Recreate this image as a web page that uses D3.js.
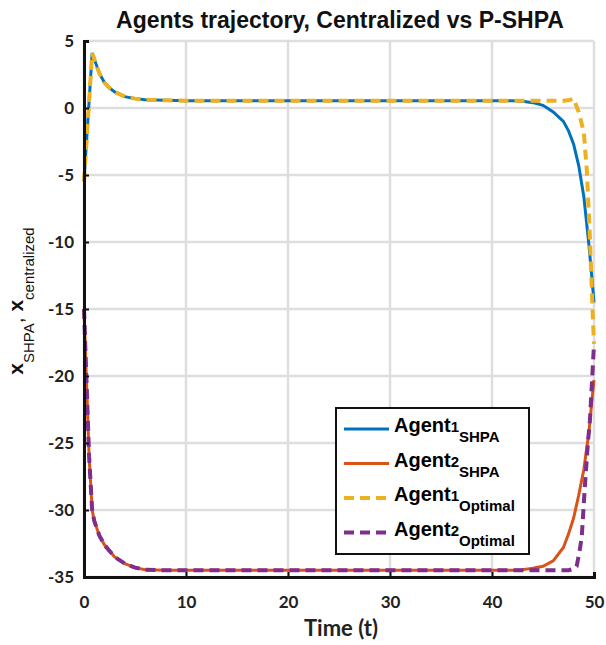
<!DOCTYPE html>
<html>
<head>
<meta charset="utf-8">
<script src="https://cdn.jsdelivr.net/npm/d3@7"></script>
<style>
  body { margin: 0; background: #fff; }
  text { font-family: "Liberation Sans", Arial, sans-serif; }
</style>
</head>
<body>
<div id="chart"></div>
<script>
// time samples and trajectories
const tAgent1 = [0, 0.8, 1.5, 2, 2.5, 3, 4, 5, 6, 8, 10, 20, 30, 40, 42, 43, 44, 45, 46, 47, 47.5, 48, 48.5, 49, 49.5, 49.75, 50];
const agent1Shpa = [-5.5, 4.1, 2.6, 1.9, 1.5, 1.2, 0.85, 0.7, 0.62, 0.57, 0.55, 0.55, 0.55, 0.55, 0.55, 0.5, 0.4, 0.2, -0.3, -1.0, -1.7, -2.7, -4.3, -6.6, -10.2, -12.3, -14.5];

const tAgent1Opt = [0, 0.8, 1.5, 2, 2.5, 3, 4, 5, 6, 8, 10, 20, 30, 40, 47, 47.6, 48, 48.5, 49, 49.3, 49.6, 49.9, 50];
const agent1Opt = [-5.5, 4.1, 2.6, 1.9, 1.5, 1.2, 0.85, 0.7, 0.62, 0.57, 0.55, 0.55, 0.55, 0.55, 0.55, 0.6, 0.7, -0.3, -1.8, -4.7, -9.7, -15.9, -17.6];

const tAgent2 = [0, 0.5, 0.8, 1, 1.5, 2, 3, 4, 5, 6, 8, 10, 20, 30, 40, 42, 43, 44, 45, 46, 47, 47.5, 48, 48.5, 49, 49.5, 49.8, 50];
const agent2Shpa = [-15, -26, -30, -30.8, -31.9, -32.6, -33.5, -34.0, -34.3, -34.45, -34.5, -34.5, -34.5, -34.5, -34.5, -34.5, -34.45, -34.35, -34.2, -33.8, -32.8, -31.8, -30.6, -28.9, -27, -24.2, -21.8, -20.3];

const tAgent2Opt = [0, 0.5, 0.8, 1, 1.5, 2, 3, 4, 5, 6, 8, 10, 20, 30, 40, 47.5, 48, 48.3, 48.6, 48.8, 49.1, 49.4, 49.6, 49.8, 50];
const agent2Opt = [-15, -26, -30, -30.8, -31.9, -32.6, -33.5, -34.0, -34.3, -34.45, -34.5, -34.5, -34.5, -34.5, -34.5, -34.5, -34.4, -34.2, -33, -32, -28.3, -25, -23.3, -20.5, -17.6];

const xTicks = [0, 10, 20, 30, 40, 50];
const yTicks = [5, 0, -5, -10, -15, -20, -25, -30, -35];

const series = [
  { name: 'Agent', num: '1', sub: 'SHPA', t: tAgent1, v: agent1Shpa, color: '#0072BD', dash: null, w: 3 },
  { name: 'Agent', num: '2', sub: 'SHPA', t: tAgent2, v: agent2Shpa, color: '#D95319', dash: null, w: 3 },
  { name: 'Agent', num: '1', sub: 'Optimal', t: tAgent1Opt, v: agent1Opt, color: '#EDB120', dash: '10,6', w: 4 },
  { name: 'Agent', num: '2', sub: 'Optimal', t: tAgent2Opt, v: agent2Opt, color: '#7E2F8E', dash: '10,6', w: 4 }
];

const W = 606, H = 645;
const m = { left: 84, right: 12, top: 41, bottom: 68 };

const svg = d3.select('#chart').append('svg')
  .attr('width', W).attr('height', H);

const x = d3.scaleLinear().domain([0, 50]).range([m.left, W - m.right]);
const y = d3.scaleLinear().domain([-35, 5]).range([H - m.bottom, m.top]);

// grid
svg.append('g').selectAll('line').data(xTicks).enter().append('line')
  .attr('x1', d => x(d)).attr('x2', d => x(d))
  .attr('y1', y(5)).attr('y2', y(-35))
  .attr('stroke', '#dedede').attr('stroke-width', 2.5);
svg.append('g').selectAll('line').data(yTicks).enter().append('line')
  .attr('x1', x(0)).attr('x2', x(50))
  .attr('y1', d => y(d)).attr('y2', d => y(d))
  .attr('stroke', '#dedede').attr('stroke-width', 2.5);

// series
const line = d3.line().x(d => x(d[0])).y(d => y(d[1]));
series.forEach(s => {
  svg.append('path')
    .datum(s.t.map((t, i) => [t, s.v[i]]))
    .attr('d', line)
    .attr('fill', 'none')
    .attr('stroke', s.color)
    .attr('stroke-width', s.w)
    .attr('stroke-dasharray', s.dash);
});

// axes
const xAxis = svg.append('g')
  .attr('transform', `translate(0, ${y(-35)})`)
  .call(d3.axisBottom(x).tickValues(xTicks).tickSize(-5).tickPadding(19));
const yAxis = svg.append('g')
  .attr('transform', `translate(${x(0)}, 0)`)
  .call(d3.axisLeft(y).tickValues(yTicks).tickSize(-5).tickPadding(10).tickFormat(d => d));
[xAxis, yAxis].forEach(a => {
  a.select('.domain').attr('stroke', '#111').attr('stroke-width', 3);
  a.selectAll('.tick line').attr('stroke', '#111').attr('stroke-width', 2);
  a.selectAll('.tick text').attr('fill', '#222')
    .style('font-family', 'Lato, sans-serif')
    .style('font-size', '17px').style('font-weight', 'bold');
});

// title and labels
svg.append('text')
  .attr('x', 340).attr('y', 28)
  .attr('text-anchor', 'middle')
  .style('font-size', '23px').style('font-weight', 'bold').attr('fill', '#111')
  .text('Agents trajectory, Centralized vs P-SHPA');

svg.append('text')
  .attr('x', 341).attr('y', 636)
  .attr('text-anchor', 'middle')
  .style('font-family', 'Lato, sans-serif')
  .style('font-size', '22px').style('font-weight', 'bold').attr('fill', '#222')
  .text('Time (t)');

const yl = svg.append('text')
  .attr('transform', 'translate(23, 301) rotate(-90)')
  .attr('text-anchor', 'middle')
  .attr('fill', '#111');
yl.append('tspan').style('font-size', '21px').style('font-weight', 'bold').text('x');
yl.append('tspan').style('font-size', '15px').attr('dy', 11).text('SHPA');
yl.append('tspan').style('font-size', '21px').attr('dy', -11).text(', ');
yl.append('tspan').style('font-size', '21px').style('font-weight', 'bold').text('x');
yl.append('tspan').style('font-size', '15px').attr('dy', 11).text('centralized');

// legend
const lg = svg.append('g').attr('transform', 'translate(336, 408)');
lg.append('rect')
  .attr('width', 193).attr('height', 146)
  .attr('fill', '#fff').attr('stroke', '#111').attr('stroke-width', 2);
series.forEach((s, i) => {
  const cy = 21 + i * 34.5;
  lg.append('line')
    .attr('x1', 8).attr('x2', 53).attr('y1', cy).attr('y2', cy)
    .attr('stroke', s.color).attr('stroke-width', s.w)
    .attr('stroke-dasharray', s.dash);
  const tx = lg.append('text')
    .attr('x', 58).attr('y', cy + 3)
    .style('font-weight', 'bold').attr('fill', '#000');
  tx.append('tspan').style('font-size', '20px').text(s.name);
  tx.append('tspan').style('font-size', '15px').text(s.num);
  tx.append('tspan').style('font-size', '15px').attr('dy', 10).text(s.sub);
});
</script>
</body>
</html>
